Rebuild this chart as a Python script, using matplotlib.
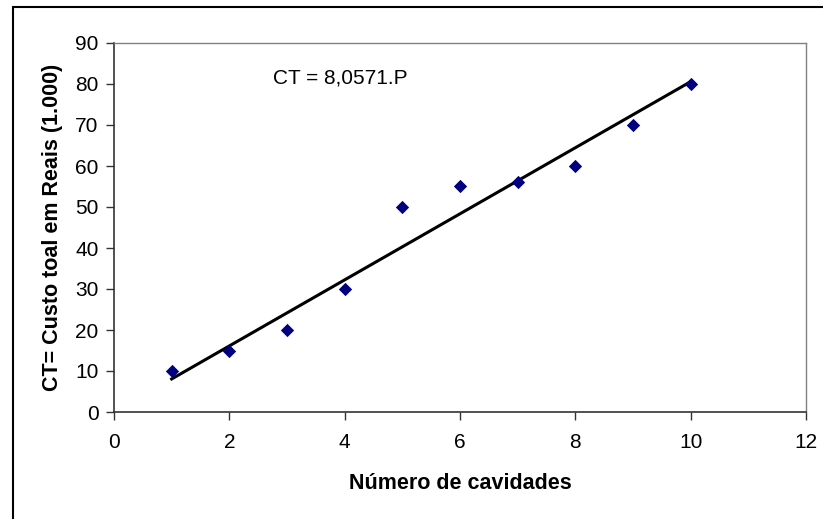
import matplotlib
matplotlib.use('Agg')
import matplotlib.pyplot as plt
from matplotlib.patches import Rectangle
import numpy as np

plt.rcParams['font.family'] = ['Liberation Sans', 'DejaVu Sans']

# Datos observados
cavidades = [1, 2, 3, 4, 5, 6, 7, 8, 9, 10]
custo = [10, 15, 20, 30, 50, 55, 56, 60, 70, 80]

# Pendiente de la recta por el origen
pendiente = 8.0571

fig = plt.figure(figsize=(8.23, 5.19), dpi=100)
ax = fig.add_axes([114 / 823, 1 - 412 / 519, (806 - 114) / 823, (412 - 43) / 519])

# Marco exterior (solo se ven los bordes izquierdo y superior)
fig.patches.append(Rectangle((13 / 823, -0.05), 1.2, 1 - 7 / 519 + 0.05,
                             transform=fig.transFigure, fill=False,
                             edgecolor='black', linewidth=1.5))

# Recta de regresión
x_linea = np.array([min(cavidades), max(cavidades)])
ax.plot(x_linea, pendiente * x_linea, color='black', linewidth=2.2, zorder=2)

# Puntos
ax.scatter(cavidades, custo, marker='D', s=46, color='#000080', zorder=3, linewidths=0)

ax.set_xlim(0, 12)
ax.set_ylim(0, 90)
ax.set_xticks(range(0, 13, 2))
ax.set_yticks(range(0, 91, 10))
ax.tick_params(direction='out', length=6, width=1, labelsize=15, color='#333333')
ax.tick_params(axis='x', pad=9)
ax.tick_params(axis='y', pad=5)

for lado in ['top', 'right']:
    ax.spines[lado].set_color('#808080')
    ax.spines[lado].set_linewidth(1)
for lado in ['left', 'bottom']:
    ax.spines[lado].set_color('#333333')
    ax.spines[lado].set_linewidth(1.2)

ax.set_xlabel('Número de cavidades', fontsize=15.5, fontweight='bold', labelpad=15)
ax.set_ylabel('CT= Custo toal em Reais (1.000)', fontsize=15.5, fontweight='bold', labelpad=9)

ax.text(2.75, 81.5, 'CT = 8,0571.P', fontsize=15, ha='left', va='center')

plt.savefig('out.png', dpi=100)
